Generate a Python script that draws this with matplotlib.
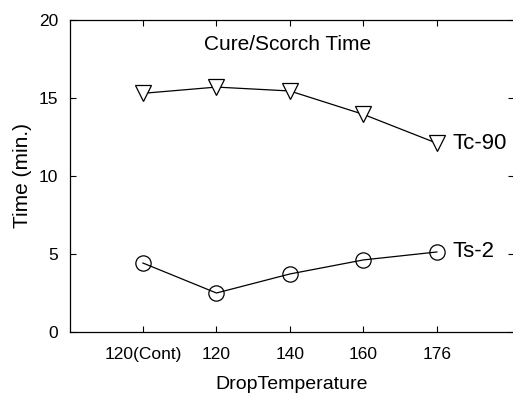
import matplotlib
matplotlib.use("Agg")
import matplotlib.pyplot as plt

plt.rcParams['font.family'] = ['Liberation Sans', 'DejaVu Sans']

categories = ["120(Cont)", "120", "140", "160", "176"]
tc90 = [15.3, 15.7, 15.45, 13.95, 12.1]
ts2 = [4.42, 2.5, 3.72, 4.62, 5.13]

fig = plt.figure(figsize=(5.13, 3.94), dpi=100)
ax = fig.add_axes([69.5 / 513, 62 / 394, 444.5 / 513, 312 / 394])

x = list(range(1, len(categories) + 1))
ax.plot(x, tc90, color='black', lw=0.9, marker='v', markersize=11.5,
        markerfacecolor='white', markeredgecolor='black', markeredgewidth=0.9)
ax.plot(x, ts2, color='black', lw=0.9, marker='o', markersize=11,
        markerfacecolor='none', markeredgecolor='black', markeredgewidth=0.9)

ax.text(x[-1] + 0.21, tc90[-1], "Tc-90", fontsize=16, va='center', ha='left')
ax.text(x[-1] + 0.21, ts2[-1], "Ts-2", fontsize=16, va='center', ha='left')
ax.text(2.97, 18.45, "Cure/Scorch Time", fontsize=15, va='center', ha='center')

ax.set_xlim(0, 6.05)
ax.set_ylim(0, 20)
ax.set_xticks(x)
ax.set_xticklabels(categories)
ax.set_yticks([0, 5, 10, 15, 20])
ax.tick_params(direction='in', top=True, right=True, labelsize=12.5, length=4,
               width=0.8)
ax.tick_params(axis='x', pad=11)
ax.tick_params(axis='y', pad=8)
for s in ax.spines.values():
    s.set_linewidth(0.9)

ax.set_xlabel("DropTemperature", fontsize=14, labelpad=10)
ax.set_ylabel("Time (min.)", fontsize=15, labelpad=5)

fig.savefig("out.png", dpi=100)
